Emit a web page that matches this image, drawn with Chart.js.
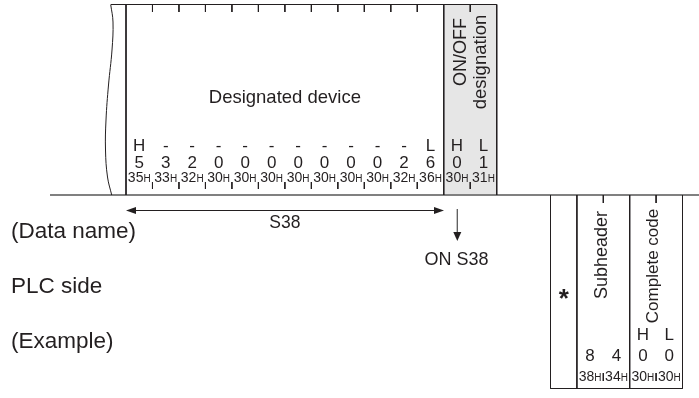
<!DOCTYPE html>
<html>
<head>
<meta charset="utf-8">
<script src="https://cdn.jsdelivr.net/npm/chart.js@4/dist/chart.umd.min.js"></script>
<style>
  html, body { margin: 0; padding: 0; background: #fff; }
  canvas { display: block; }
</style>
</head>
<body>
<canvas id="frame" width="699" height="398"></canvas>
<script>
// field contents
var deviceHL = ['H', '-', '-', '-', '-', '-', '-', '-', '-', '-', '-', 'L'];
var deviceDigits = ['5', '3', '2', '0', '0', '0', '0', '0', '0', '0', '2', '6'];
var deviceHex = ['35', '33', '32', '30', '30', '30', '30', '30', '30', '30', '32', '36'];
var onoffHL = ['H', 'L'];
var onoffDigits = ['0', '1'];
var onoffHex = ['30', '31'];
var subheaderDigits = ['8', '4'];
var subheaderHex = ['38', '34'];
var completeHL = ['H', 'L'];
var completeDigits = ['0', '0'];
var completeHex = ['30', '30'];
var rowLabels = ['(Data name)', 'PLC side', '(Example)'];
var fieldTitles = ['Designated device', 'ON/OFF', 'designation', 'Subheader', 'Complete code'];
var arrowLabels = ['S38', 'ON S38'];

// layout (pixel units of the 699x398 frame)
var INK = '#231f20';
var FONT = '"Liberation Sans", Arial, Helvetica, sans-serif';
var COL0 = 126, COLW = 26.48;          // request frame columns
var LOW0 = 550.5, LOWW = 26.4;         // response frame columns
var TOP = 4.5, BASE = 195, LOWBOT = 388.5;

function colEdge(i) { return COL0 + COLW * i; }
function colMid(i) { return COL0 + COLW * (i + 0.5); }
function lowEdge(i) { return LOW0 + LOWW * i; }
function lowMid(i) { return LOW0 + LOWW * (i + 0.5); }

function seg(x1, y1, x2, y2) { return [{ x: x1, y: y1 }, { x: x2, y: y2 }]; }

var thinSegs = [];
thinSegs.push(seg(111, TOP, colEdge(14), TOP));
thinSegs.push(seg(COL0, TOP, COL0, BASE));
thinSegs.push(seg(colEdge(12), TOP, colEdge(12), BASE));
thinSegs.push(seg(colEdge(14), TOP, colEdge(14), BASE));
for (var i = 1; i < 14; i++) {
    if (i === 12) continue;
    thinSegs.push(seg(colEdge(i), TOP, colEdge(i), 12));
    thinSegs.push(seg(colEdge(i), 182, colEdge(i), 189));
}
[0, 1, 3, 5].forEach(function (k) {
    thinSegs.push(seg(lowEdge(k), BASE, lowEdge(k), LOWBOT));
});
thinSegs.push(seg(lowEdge(0), LOWBOT, lowEdge(5), LOWBOT));
[2, 4].forEach(function (k) {
    thinSegs.push(seg(lowEdge(k), BASE, lowEdge(k), 203));
    thinSegs.push(seg(lowEdge(k), 373, lowEdge(k), 381));
});
thinSegs.push(seg(134, 210.5, 436, 210.5));

var wavy = [
    { x: 110.7, y: TOP }, { x: 113, y: 22 }, { x: 112, y: 50 }, { x: 108.5, y: 85 },
    { x: 106, y: 120 }, { x: 105.5, y: 150 }, { x: 107.5, y: 177 }, { x: 111.7, y: BASE }
];

var datasets = thinSegs.map(function (pts) {
    return { data: pts, showLine: true, borderColor: INK, borderWidth: 1, pointRadius: 0, fill: false };
});
datasets.push({ data: wavy, showLine: true, borderColor: INK, borderWidth: 1, pointRadius: 0, tension: 0.4, fill: false });
datasets.push({ data: seg(50, BASE, 699, BASE), showLine: true, borderColor: '#808080', borderWidth: 2, pointRadius: 0 });
datasets.push({ data: seg(457.3, 209, 457.3, 233), showLine: true, borderColor: '#5a5a5a', borderWidth: 1.3, pointRadius: 0 });

function P(chart, x, y) {
    return { x: chart.scales.x.getPixelForValue(x), y: chart.scales.y.getPixelForValue(y) };
}

function text(ctx, chart, s, x, y, size, align, weight) {
    var p = P(chart, x, y);
    ctx.font = (weight || '') + ' ' + size + 'px ' + FONT;
    ctx.textAlign = align || 'center';
    ctx.textBaseline = 'middle';
    ctx.fillStyle = INK;
    ctx.fillText(s, p.x, p.y);
}

function vtext(ctx, chart, s, x, y, size) {
    var p = P(chart, x, y);
    ctx.save();
    ctx.translate(p.x, p.y);
    ctx.rotate(-Math.PI / 2);
    ctx.font = size + 'px ' + FONT;
    ctx.textAlign = 'center';
    ctx.textBaseline = 'middle';
    ctx.fillStyle = INK;
    ctx.fillText(s, 0, 0);
    ctx.restore();
}

function hex(ctx, chart, s, x, y) {
    var p = P(chart, x, y);
    ctx.textBaseline = 'alphabetic';
    ctx.textAlign = 'left';
    ctx.fillStyle = INK;
    ctx.font = '14px ' + FONT;
    var w1 = ctx.measureText(s).width;
    ctx.font = '10px ' + FONT;
    var w2 = ctx.measureText('H').width;
    var left = p.x - (w1 + w2) / 2;
    var base = p.y + 5;
    ctx.font = '14px ' + FONT;
    ctx.fillText(s, left, base);
    ctx.font = '10px ' + FONT;
    ctx.fillText('H', left + w1, base);
}

function arrowHead(ctx, chart, x, y, dir, len, half, color) {
    var p = P(chart, x, y);
    ctx.save();
    ctx.translate(p.x, p.y);
    ctx.rotate(dir);
    ctx.beginPath();
    ctx.moveTo(0, 0);
    ctx.lineTo(-len, -half);
    ctx.lineTo(-len, half);
    ctx.closePath();
    ctx.fillStyle = color;
    ctx.fill();
    ctx.restore();
}

var diagramPlugin = {
    id: 'diagram',
    beforeDatasetsDraw: function (chart) {
        var ctx = chart.ctx;
        var a = P(chart, colEdge(12), TOP), b = P(chart, colEdge(14), BASE);
        ctx.save();
        ctx.fillStyle = '#e6e6e6';
        ctx.fillRect(a.x, a.y, b.x - a.x, b.y - a.y);
        ctx.restore();
    },
    afterDatasetsDraw: function (chart) {
        var ctx = chart.ctx;
        ctx.save();
        text(ctx, chart, fieldTitles[0], colMid(5.5), 98, 18.5);
        vtext(ctx, chart, fieldTitles[1], 461.5, 52, 18);
        vtext(ctx, chart, fieldTitles[2], 480.5, 62, 18.5);
        var i;
        for (i = 0; i < deviceHL.length; i++) {
            text(ctx, chart, deviceHL[i], colMid(i), 146.5, 17);
            text(ctx, chart, deviceDigits[i], colMid(i), 163, 17);
            hex(ctx, chart, deviceHex[i], colMid(i), 177);
        }
        for (i = 0; i < onoffHL.length; i++) {
            text(ctx, chart, onoffHL[i], colMid(12 + i), 146.5, 17);
            text(ctx, chart, onoffDigits[i], colMid(12 + i), 163, 17);
            hex(ctx, chart, onoffHex[i], colMid(12 + i), 177);
        }
        // arrows
        arrowHead(ctx, chart, 126, 210.5, Math.PI, 10, 3.5, INK);
        arrowHead(ctx, chart, 444, 210.5, 0, 10, 3.5, INK);
        arrowHead(ctx, chart, 457.3, 241, Math.PI / 2, 9, 4, INK);
        text(ctx, chart, arrowLabels[0], colMid(5.5), 223, 17.5);
        text(ctx, chart, arrowLabels[1], 456.5, 260, 18);
        // row labels
        for (i = 0; i < rowLabels.length; i++) {
            text(ctx, chart, rowLabels[i], 11, 231.7 + 55 * i, 22.5, 'left');
        }
        // response frame
        var st = P(chart, lowMid(0), 307);
        ctx.font = 'bold 26px ' + FONT;
        ctx.textAlign = 'center';
        ctx.textBaseline = 'alphabetic';
        ctx.fillStyle = INK;
        ctx.fillText('*', st.x, st.y);
        vtext(ctx, chart, fieldTitles[3], lowEdge(2) - 1, 255, 18);
        vtext(ctx, chart, fieldTitles[4], lowEdge(4) - 3, 266, 17);
        for (i = 0; i < 2; i++) {
            text(ctx, chart, subheaderDigits[i], lowMid(1 + i), 356, 17);
            hex(ctx, chart, subheaderHex[i], lowMid(1 + i), 376);
            text(ctx, chart, completeHL[i], lowMid(3 + i), 335, 17);
            text(ctx, chart, completeDigits[i], lowMid(3 + i), 356, 17);
            hex(ctx, chart, completeHex[i], lowMid(3 + i), 376);
        }
        ctx.restore();
    }
};

new Chart(document.getElementById('frame'), {
    type: 'scatter',
    data: { datasets: datasets },
    options: {
        responsive: false,
        animation: false,
        events: [],
        layout: { padding: 0 },
        plugins: { legend: { display: false }, tooltip: { enabled: false } },
        scales: {
            x: { type: 'linear', min: 0, max: 699, display: false },
            y: { type: 'linear', min: 0, max: 398, reverse: true, display: false }
        }
    },
    plugins: [diagramPlugin]
});
</script>
</body>
</html>
